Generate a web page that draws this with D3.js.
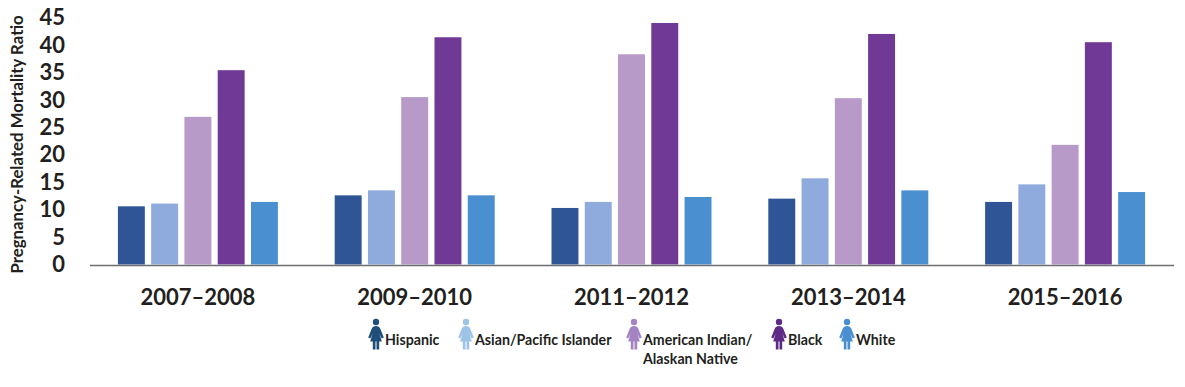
<!DOCTYPE html>
<html>
<head>
<meta charset="utf-8">
<script src="https://cdn.jsdelivr.net/npm/d3@7"></script>
<style>
  html, body { margin: 0; padding: 0; background: #fff; }
  svg { display: block; font-family: Lato, sans-serif; font-weight: 700; }
  text { fill: #231f20; }
</style>
</head>
<body>
<script>
var periods = ['2007–2008', '2009–2010', '2011–2012', '2013–2014', '2015–2016'];
var groups = ['Hispanic', 'Asian/Pacific Islander', 'American Indian/ Alaskan Native', 'Black', 'White'];
var hispanic = [10.6, 12.6, 10.3, 12.0, 11.4];
var asian = [11.1, 13.5, 11.4, 15.7, 14.6];
var indian = [26.9, 30.5, 38.3, 30.3, 21.8];
var black = [35.4, 41.4, 44, 42, 40.5];
var white = [11.4, 12.6, 12.3, 13.5, 13.2];
var yTicks = [0, 5, 10, 15, 20, 25, 30, 35, 40, 45];

var series = [hispanic, asian, indian, black, white];
var barColors = ['#2f5597', '#8faadc', '#b79ac8', '#703996', '#4a8fd0'];
var iconColors = ['#1f4e79', '#9dc3e6', '#a582c4', '#5f2a86', '#4a90d0'];
var legendX = [376, 466, 634, 779, 847];

var width = 1185;
var height = 387;

var svg = d3.select('body').append('svg').attr('width', width).attr('height', height);

var x = d3.scaleBand().domain(periods).range([89.5, 1173.5]);
var inner = d3.scaleBand().domain(d3.range(5)).range([0, 160]).paddingInner(0.19);
var y = d3.scaleLinear().domain([0, 45]).range([264.5, 17.5]);

// bars
svg.selectAll('g.group')
    .data(periods)
    .join('g')
    .classed('group', true)
    .attr('transform', d => `translate(${x(d) + (x.bandwidth() - 160) / 2},0)`)
    .selectAll('rect')
    .data((d, i) => series.map((s, j) => ({ j: j, v: s[i] })))
    .join('rect')
    .attr('x', d => inner(d.j))
    .attr('y', d => y(d.v))
    .attr('width', inner.bandwidth())
    .attr('height', d => y(0) - y(d.v))
    .attr('fill', d => barColors[d.j]);

// axes (axis g sets its own font, clear it so the page font applies)
var yAxis = svg.append('g')
    .attr('transform', 'translate(65,0)')
    .call(d3.axisLeft(y).tickValues(yTicks).tickSize(0).tickPadding(0))
    .attr('font-family', null)
    .attr('font-size', 22);
yAxis.select('.domain').remove();
yAxis.selectAll('text').attr('dy', '0.33em');

var xAxis = svg.append('g')
    .attr('transform', 'translate(0,265)')
    .call(d3.axisBottom(x).tickSize(0).tickPadding(0))
    .attr('font-family', null)
    .attr('font-size', 22);
xAxis.select('.domain').attr('stroke', '#6d6e71').attr('stroke-width', 1.6);
xAxis.selectAll('text').attr('y', 24).attr('dy', '0.71em');

svg.append('text')
    .attr('transform', 'translate(22.5,144.5) rotate(-90)')
    .attr('text-anchor', 'middle')
    .attr('font-size', 16.8)
    .text('Pregnancy-Related Mortality Ratio');

// legend: little figure plus label
var personBody = 'M0,-8 C2.4,-8 3.4,-7 4.2,-5.4 L7.8,3.4 L5.6,4.4 L3.4,-0.4 L5.8,7.6 L3.2,7.6 L3.2,15.5 L0.5,15.5 L0.5,7.6 L-0.5,7.6 L-0.5,15.5 L-3.2,15.5 L-3.2,7.6 L-5.8,7.6 L-3.4,-0.4 L-5.6,4.4 L-7.8,3.4 L-4.2,-5.4 C-3.4,-7 -2.4,-8 0,-8 Z';

var legend = svg.selectAll('g.legend')
    .data(groups)
    .join('g')
    .classed('legend', true)
    .attr('transform', (d, i) => `translate(${legendX[i]},334)`);

legend.append('circle')
    .attr('cy', -12)
    .attr('r', 3.2)
    .attr('fill', (d, i) => iconColors[i]);

legend.append('path')
    .attr('d', personBody)
    .attr('fill', (d, i) => iconColors[i]);

legend.append('text')
    .attr('x', 9)
    .attr('y', 11)
    .attr('font-size', 14.2)
    .selectAll('tspan')
    .data(d => d.indexOf('/ ') > -1 ? [d.split('/ ')[0] + '/', d.split('/ ')[1]] : [d])
    .join('tspan')
    .attr('x', 9)
    .attr('dy', (d, i) => i ? 18.5 : 0)
    .text(d => d);
</script>
</body>
</html>
